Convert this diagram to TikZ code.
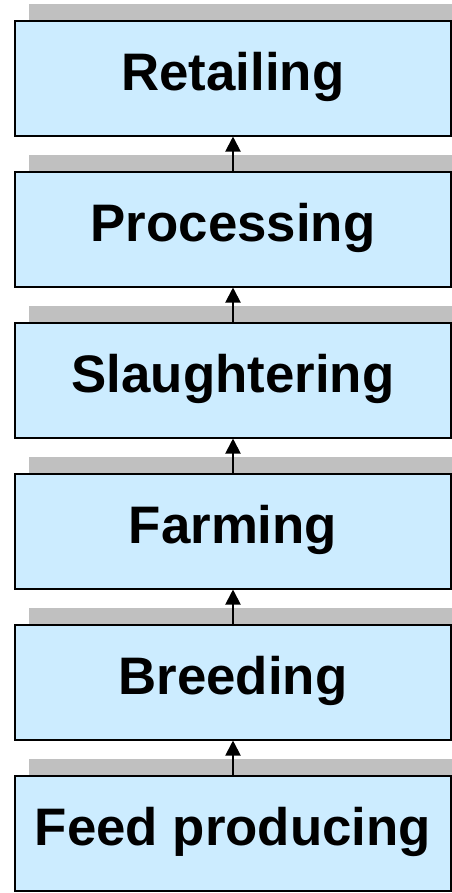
\documentclass[tikz,border=0pt]{standalone}
\usepackage{fontspec}
\setmainfont{Liberation Sans}
\usetikzlibrary{matrix,shadows,arrows.meta}
\definecolor{boxblue}{HTML}{CCECFF}
\definecolor{bargray}{HTML}{C0C0C0}

\begin{document}
\begin{tikzpicture}[x=1bp,y=1bp]
\useasboundingbox (0,0) rectangle (452,-893);
\clip (0,0) rectangle (452,-893);
\matrix (m) [matrix of nodes,row sep=34bp,anchor=north,
  nodes={draw,line width=2bp,fill=boxblue,minimum width=436bp,minimum height=115bp,
    font=\fontsize{53}{60}\selectfont\bfseries,text height=39bp,text depth=15bp,
    general shadow={fill=bargray,shadow xshift=14bp,shadow yshift=17bp}}] at (233,-16)
{
	Retailing \\
	Processing \\
	Slaughtering \\
	Farming \\
	Breeding \\
	Feed producing \\};
\path[-{Triangle[length=15bp,width=15bp]},line width=2bp]
(m-6-1)  edge (m-5-1)
(m-5-1)  edge (m-4-1)
(m-4-1)  edge (m-3-1)
(m-3-1)  edge (m-2-1)
(m-2-1)  edge (m-1-1);
\end{tikzpicture}
\end{document}
